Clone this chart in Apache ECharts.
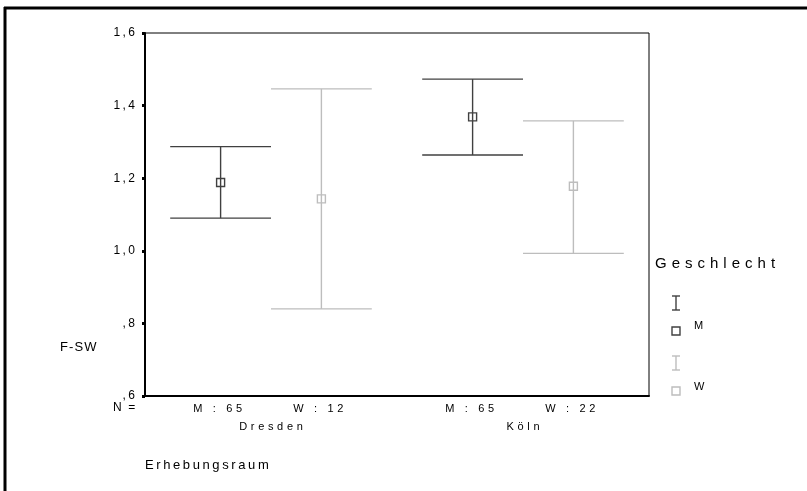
<!DOCTYPE html>
<html>
<head>
<meta charset="utf-8">
<script src="https://cdn.jsdelivr.net/npm/echarts@6/dist/echarts.min.js"></script>
<style>
  html, body { margin: 0; padding: 0; background: #fff; }
  #chart { width: 807px; height: 491px; }
</style>
</head>
<body>
<div id="chart"></div>
<script>
// Erhebungsraum (Gruppen auf der x-Achse)
var regions = ['Dresden', 'Köln'];
// Geschlecht M: Mittelwert, untere und obere Grenze
var meanM = [1.188, 1.369];
var lowM = [1.090, 1.264];
var highM = [1.287, 1.473];
var nM = [65, 65];
// Geschlecht W
var meanW = [1.143, 1.178];
var lowW = [0.840, 0.993];
var highW = [1.446, 1.358];
var nW = [12, 22];
// y-Achse
var yMin = 0.6, yMax = 1.6, yStep = 0.2;

var colM = '#404040';
var colW = '#bdbdbd';
var font = 'Liberation Sans, Arial, sans-serif';

var THIN = '\u2009', WIDE = '\u2004', HAIR = '\u200A';

// SPSS-artige gesperrte Schrift
function sp(s, gap) {
    return s.split('').join(gap || THIN);
}

function rows(mean, low, high) {
    var out = [];
    for (var i = 0; i < mean.length; i++) {
        out.push([i, mean[i], low[i], high[i]]);
    }
    return out;
}

function makeRender(color, side, sex, counts) {
    return function (params, api) {
        var cat = api.value(0);
        var band = api.size([1, 0])[0];
        var off = side * band * 0.2;
        var half = band * 0.2;
        var pTop = api.coord([cat, api.value(3)]);
        var pMid = api.coord([cat, api.value(1)]);
        var pLow = api.coord([cat, api.value(2)]);
        var pBase = api.coord([cat, yMin]);
        var x = pTop[0] + off;
        var ls = { stroke: color, lineWidth: 1.4 };
        var s = 4;
        return {
            type: 'group',
            children: [
                { type: 'line', shape: { x1: x, y1: pTop[1], x2: x, y2: pLow[1] }, style: ls },
                { type: 'line', shape: { x1: x - half, y1: pTop[1], x2: x + half, y2: pTop[1] }, style: ls },
                { type: 'line', shape: { x1: x - half, y1: pLow[1], x2: x + half, y2: pLow[1] }, style: ls },
                { type: 'rect', shape: { x: x - s, y: pMid[1] - s, width: 2 * s, height: 2 * s },
                  style: { stroke: color, lineWidth: 1.4, fill: 'none' } },
                { type: 'text', x: x - 3, y: pBase[1] + 13,
                  style: { text: sp(sex + ' : ' + counts[params.dataIndex], WIDE), fill: '#000',
                           font: '11px ' + font, align: 'center', verticalAlign: 'middle' } }
            ]
        };
    };
}

var chart = echarts.init(document.getElementById('chart'));
var option = {
    animation: false,
    grid: {
        left: 145, top: 33, right: 158, bottom: 95,
        show: true, borderColor: '#000', borderWidth: 1
    },
    xAxis: {
        type: 'category',
        data: regions,
        axisLine: { lineStyle: { color: '#000', width: 2 } },
        axisTick: { alignWithLabel: true, length: 3, lineStyle: { color: '#000', width: 3 } },
        axisLabel: {
            margin: 25, fontSize: 11, fontFamily: font, color: '#000',
            formatter: function (v) { return sp(v, WIDE); }
        },
        splitLine: { show: false }
    },
    yAxis: {
        type: 'value',
        min: yMin, max: yMax, interval: yStep,
        axisLine: { show: true, lineStyle: { color: '#000', width: 2 } },
        axisTick: { show: true, length: 3, lineStyle: { color: '#000', width: 3 } },
        axisLabel: {
            margin: 10, fontSize: 12, fontFamily: font, color: '#000',
            formatter: function (v) {
                return sp(v.toFixed(1).replace('.', ',').replace(/^0/, ''));
            }
        },
        splitLine: { show: false }
    },
    graphic: [
        { type: 'line', shape: { x1: 4, y1: 8, x2: 807, y2: 8 }, style: { stroke: '#000', lineWidth: 3 } },
        { type: 'line', shape: { x1: 5, y1: 7, x2: 5, y2: 491 }, style: { stroke: '#000', lineWidth: 3 } },
        { type: 'text', left: 60, top: 341, style: { text: sp('F-SW', HAIR), font: '13px ' + font, fill: '#000' } },
        { type: 'text', left: 113, top: 402, style: { text: 'N  =', font: '12px ' + font, fill: '#000' } },
        { type: 'text', left: 145, top: 459, style: { text: sp('Erhebungsraum'), font: '13px ' + font, fill: '#000' } },
        { type: 'text', left: 655, top: 256, style: { text: sp('Geschlecht', WIDE), font: '15px ' + font, fill: '#000' } },
        // Legende M
        { type: 'line', shape: { x1: 676, y1: 296, x2: 676, y2: 310 }, style: { stroke: colM, lineWidth: 1.4 } },
        { type: 'line', shape: { x1: 672, y1: 296, x2: 680, y2: 296 }, style: { stroke: colM, lineWidth: 1.4 } },
        { type: 'line', shape: { x1: 672, y1: 310, x2: 680, y2: 310 }, style: { stroke: colM, lineWidth: 1.4 } },
        { type: 'rect', shape: { x: 672, y: 327, width: 8, height: 8 }, style: { stroke: colM, lineWidth: 1.4, fill: 'none' } },
        { type: 'text', left: 694, top: 320, style: { text: 'M', font: '11px ' + font, fill: '#000' } },
        // Legende W
        { type: 'line', shape: { x1: 676, y1: 356, x2: 676, y2: 370 }, style: { stroke: colW, lineWidth: 1.4 } },
        { type: 'line', shape: { x1: 672, y1: 356, x2: 680, y2: 356 }, style: { stroke: colW, lineWidth: 1.4 } },
        { type: 'line', shape: { x1: 672, y1: 370, x2: 680, y2: 370 }, style: { stroke: colW, lineWidth: 1.4 } },
        { type: 'rect', shape: { x: 672, y: 387, width: 8, height: 8 }, style: { stroke: colW, lineWidth: 1.4, fill: 'none' } },
        { type: 'text', left: 694, top: 381, style: { text: 'W', font: '11px ' + font, fill: '#000' } }
    ],
    series: [
        {
            name: 'M', type: 'custom', clip: false,
            renderItem: makeRender(colM, -1, 'M', nM),
            encode: { x: 0, y: [1, 2, 3] },
            data: rows(meanM, lowM, highM)
        },
        {
            name: 'W', type: 'custom', clip: false,
            renderItem: makeRender(colW, 1, 'W', nW),
            encode: { x: 0, y: [1, 2, 3] },
            data: rows(meanW, lowW, highW)
        }
    ]
};
chart.setOption(option);
</script>
</body>
</html>
